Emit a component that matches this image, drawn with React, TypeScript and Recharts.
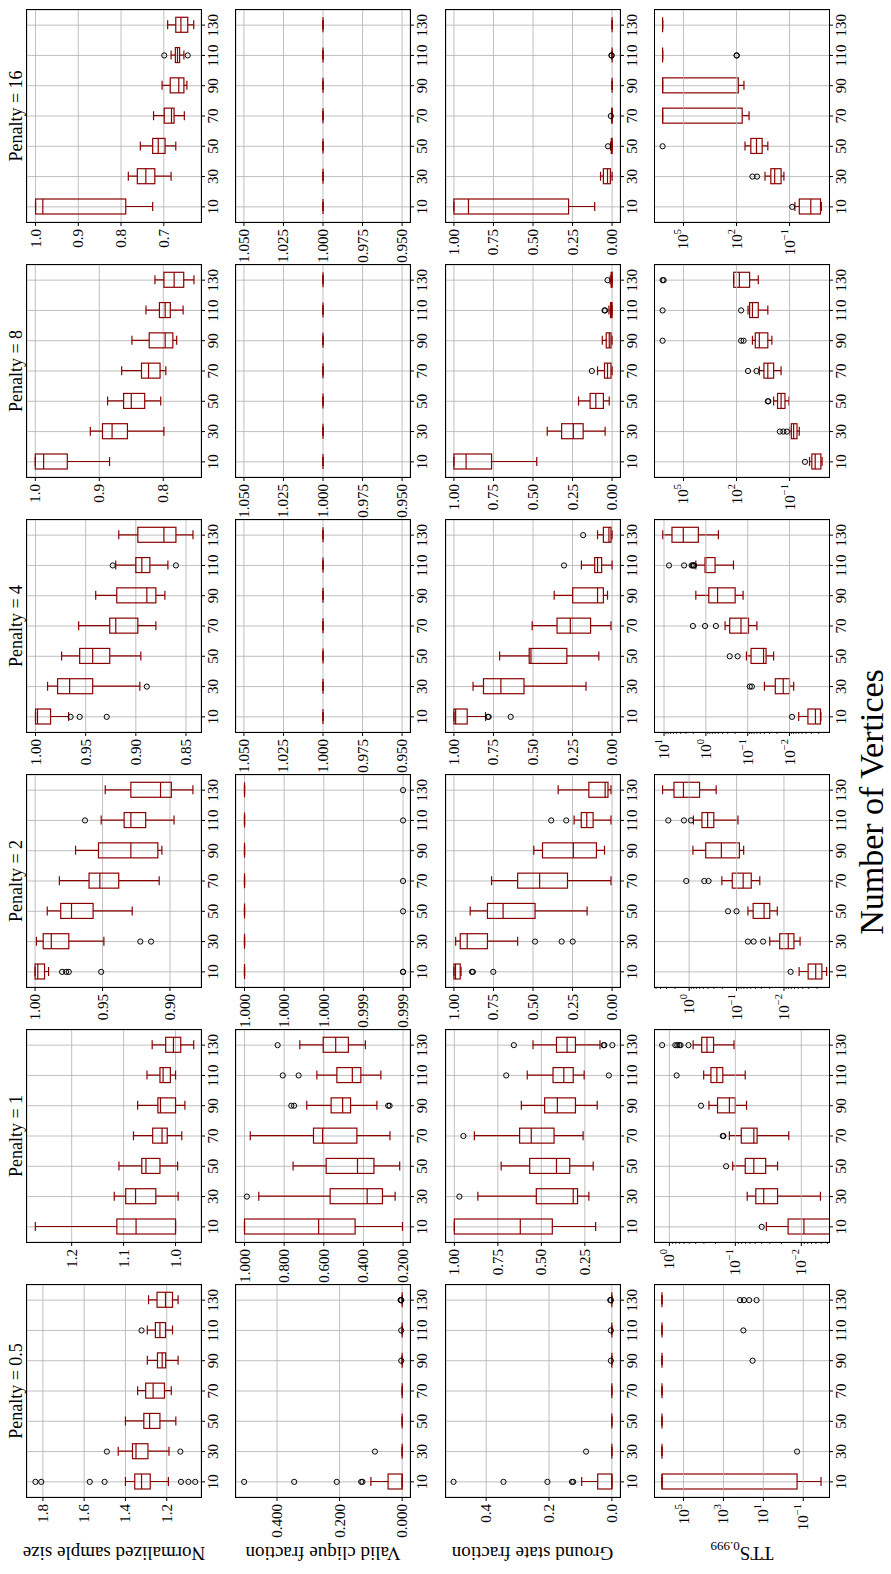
import React from "react";
import { ComposedChart, Bar, Scatter, XAxis, YAxis, CartesianGrid, ReferenceLine } from "recharts";

const vertices = [10, 30, 50, 70, 90, 110, 130];
const penalties = ["0.5", "1", "2", "4", "8", "16"];

// each box: [lower whisker, q1, median, q3, upper whisker], one block of 7 per penalty
const sampleSize = [
  [[1.192, 1.28, 1.322, 1.355, 1.4], [1.189, 1.291, 1.349, 1.366, 1.435], [1.156, 1.233, 1.283, 1.311, 1.4], [1.178, 1.211, 1.266, 1.302, 1.341], [1.145, 1.205, 1.222, 1.245, 1.294], [1.172, 1.206, 1.233, 1.255, 1.294], [1.145, 1.172, 1.206, 1.247, 1.288]],
  [[1.0, 1.0, 1.076, 1.113, 1.27], [0.995, 1.038, 1.077, 1.096, 1.118], [0.996, 1.03, 1.057, 1.065, 1.109], [0.988, 1.016, 1.026, 1.044, 1.081], [0.982, 1.0, 1.029, 1.034, 1.073], [1.0, 1.01, 1.024, 1.03, 1.055], [0.965, 0.99, 1.004, 1.019, 1.045]],
  [[0.99, 0.993, 0.998, 1.0, 1.0], [0.949, 0.975, 0.988, 0.994, 0.999], [0.928, 0.957, 0.973, 0.981, 0.991], [0.908, 0.938, 0.952, 0.96, 0.982], [0.906, 0.909, 0.929, 0.953, 0.97], [0.897, 0.918, 0.929, 0.934, 0.951], [0.883, 0.899, 0.907, 0.929, 0.948]],
  [[0.967, 0.985, 0.998, 1.0, 1.0], [0.896, 0.943, 0.966, 0.978, 0.988], [0.895, 0.926, 0.943, 0.956, 0.974], [0.88, 0.898, 0.92, 0.926, 0.957], [0.871, 0.88, 0.889, 0.919, 0.94], [0.868, 0.886, 0.894, 0.9, 0.92], [0.843, 0.86, 0.872, 0.898, 0.917]],
  [[0.884, 0.95, 0.987, 1.0, 1.0], [0.799, 0.856, 0.88, 0.895, 0.914], [0.804, 0.829, 0.85, 0.862, 0.887], [0.796, 0.805, 0.823, 0.834, 0.865], [0.779, 0.785, 0.797, 0.822, 0.849], [0.769, 0.789, 0.797, 0.806, 0.827], [0.752, 0.768, 0.783, 0.799, 0.813]],
  [[0.726, 0.789, 0.983, 1.0, 1.0], [0.683, 0.721, 0.742, 0.762, 0.783], [0.672, 0.697, 0.713, 0.726, 0.755], [0.652, 0.676, 0.682, 0.699, 0.724], [0.646, 0.653, 0.665, 0.685, 0.704], [0.653, 0.663, 0.668, 0.673, 0.683], [0.63, 0.644, 0.66, 0.672, 0.691]],
];
const sampleSizeOut = [
  [[1.836, 1.808, 1.573, 1.501, 1.131, 1.095, 1.062], [1.49, 1.134], [], [], [], [1.322], []],
  [[], [], [], [], [], [], []],
  [[0.98, 0.977, 0.975, 0.951], [0.922, 0.914], [], [], [], [0.963], []],
  [[0.965, 0.956, 0.929], [0.889], [], [], [], [0.923, 0.86], []],
  [[], [], [], [], [], [], []],
  [[], [], [], [], [], [0.699, 0.644], []],
];

const validClique = [
  [[0, 0, 0, 0.045, 0.1], [0, 0, 0, 0, 0], [0, 0, 0, 0, 0], [0, 0, 0, 0, 0], [0, 0, 0, 0, 0], [0, 0, 0, 0, 0], [0, 0, 0, 0, 0]],
  [[0.203, 0.442, 0.626, 1.0, 1.0], [0.24, 0.304, 0.381, 0.568, 0.928], [0.217, 0.347, 0.43, 0.588, 0.755], [0.266, 0.433, 0.606, 0.652, 0.971], [0.332, 0.465, 0.505, 0.563, 0.686], [0.312, 0.413, 0.456, 0.534, 0.635], [0.39, 0.476, 0.54, 0.603, 0.721]],
  [[1, 1, 1, 1, 1], [1, 1, 1, 1, 1], [1, 1, 1, 1, 1], [1, 1, 1, 1, 1], [1, 1, 1, 1, 1], [1, 1, 1, 1, 1], [1, 1, 1, 1, 1]],
  [[1, 1, 1, 1, 1], [1, 1, 1, 1, 1], [1, 1, 1, 1, 1], [1, 1, 1, 1, 1], [1, 1, 1, 1, 1], [1, 1, 1, 1, 1], [1, 1, 1, 1, 1]],
  [[1, 1, 1, 1, 1], [1, 1, 1, 1, 1], [1, 1, 1, 1, 1], [1, 1, 1, 1, 1], [1, 1, 1, 1, 1], [1, 1, 1, 1, 1], [1, 1, 1, 1, 1]],
  [[1, 1, 1, 1, 1], [1, 1, 1, 1, 1], [1, 1, 1, 1, 1], [1, 1, 1, 1, 1], [1, 1, 1, 1, 1], [1, 1, 1, 1, 1], [1, 1, 1, 1, 1]],
];
const validCliqueOut = [
  [[0.505, 0.345, 0.209, 0.131, 0.127], [0.087], [], [], [0.003], [0.003], [0.003, 0.004, 0.005]],
  [[], [0.988], [], [], [0.764, 0.75, 0.275, 0.268], [0.807, 0.727], [0.833]],
  [[0.9992, 0.9992], [], [0.9992], [0.9992], [], [0.9992], [0.9992]],
  [[], [], [], [], [], [], []],
  [[], [], [], [], [], [], []],
  [[], [], [], [], [], [], []],
];

const groundState = [
  [[0, 0, 0, 0.045, 0.096], [0, 0, 0, 0, 0], [0, 0, 0, 0, 0], [0, 0, 0, 0, 0], [0, 0, 0, 0, 0], [0, 0, 0, 0, 0], [0, 0, 0, 0, 0]],
  [[0.188, 0.437, 0.621, 1.0, 1.0], [0.227, 0.292, 0.317, 0.529, 0.865], [0.202, 0.337, 0.413, 0.567, 0.731], [0.26, 0.427, 0.558, 0.625, 0.885], [0.179, 0.304, 0.408, 0.481, 0.615], [0.254, 0.317, 0.371, 0.433, 0.581], [0.163, 0.304, 0.352, 0.413, 0.548]],
  [[0.955, 0.96, 0.99, 1.0, 1.0], [0.597, 0.788, 0.916, 0.96, 0.989], [0.158, 0.487, 0.689, 0.788, 0.897], [0.007, 0.282, 0.458, 0.597, 0.762], [0.048, 0.099, 0.245, 0.44, 0.495], [0.007, 0.12, 0.16, 0.195, 0.24], [0.007, 0.026, 0.044, 0.147, 0.341]],
  [[0.8, 0.916, 0.989, 1.0, 1.0], [0.165, 0.557, 0.703, 0.813, 0.879], [0.084, 0.286, 0.513, 0.524, 0.711], [0.007, 0.136, 0.264, 0.348, 0.505], [0.029, 0.055, 0.092, 0.249, 0.366], [0.0, 0.066, 0.092, 0.11, 0.194], [0.0, 0.007, 0.02, 0.055, 0.092]],
  [[0.476, 0.762, 0.923, 1.0, 1.0], [0.044, 0.183, 0.245, 0.319, 0.41], [0.018, 0.055, 0.103, 0.139, 0.212], [0.0, 0.007, 0.029, 0.048, 0.092], [0.0, 0.007, 0.018, 0.037, 0.062], [0.0, 0.0, 0.004, 0.01, 0.02], [0.0, 0.0, 0.002, 0.006, 0.012]],
  [[0.11, 0.275, 0.908, 1.0, 1.0], [0.0, 0.011, 0.029, 0.055, 0.073], [0, 0, 0.002, 0.005, 0.01], [0, 0, 0, 0.002, 0.004], [0, 0, 0, 0, 0], [0, 0, 0, 0, 0], [0, 0, 0, 0, 0]],
];
const groundStateOut = [
  [[0.504, 0.345, 0.205, 0.127, 0.123], [0.082], [], [], [0.003], [0.003], [0.003, 0.005]],
  [[], [0.971], [], [0.948], [], [0.702, 0.112], [0.658, 0.142, 0.138, 0.092]],
  [[0.886, 0.88, 0.751], [0.487, 0.319, 0.249], [], [], [], [0.385, 0.29], []],
  [[0.785, 0.78, 0.641], [], [], [], [], [0.304], [0.183]],
  [[], [], [], [0.128], [], [0.048, 0.044], [0.029]],
  [[], [], [0.026], [0.008], [], [0.003, 0.004], []],
];

// TTS_0.999 given as log10 exponents
const ttsExp = [
  [[-1.89, -0.69, 6.08, 6.08, 6.08], [6.08, 6.08, 6.08, 6.08, 6.08], [6.08, 6.08, 6.08, 6.08, 6.08], [6.08, 6.08, 6.08, 6.08, 6.08], [6.08, 6.08, 6.08, 6.08, 6.08], [6.08, 6.08, 6.08, 6.08, 6.08], [6.08, 6.08, 6.08, 6.08, 6.08]],
  [[-2.6, -2.5, -2.04, -1.8, -1.47], [-2.29, -1.64, -1.43, -1.31, -1.18], [-1.64, -1.46, -1.28, -1.15, -0.96], [-1.81, -1.33, -1.28, -1.09, -0.91], [-1.17, -1.0, -0.91, -0.73, -0.6], [-1.15, -0.81, -0.72, -0.63, -0.52], [-0.98, -0.67, -0.57, -0.49, -0.36]],
  [[-2.9, -2.8, -2.67, -2.51, -2.32], [-2.34, -2.21, -2.09, -1.91, -1.7], [-1.86, -1.7, -1.58, -1.35, -1.24], [-1.49, -1.31, -1.14, -0.91, -0.69], [-1.15, -1.06, -0.68, -0.35, -0.08], [-1.03, -0.52, -0.39, -0.27, -0.09], [-0.57, -0.22, 0.12, 0.32, 0.56]],
  [[-2.75, -2.74, -2.62, -2.44, -2.22], [-2.1, -2.0, -1.85, -1.66, -1.4], [-1.62, -1.44, -1.38, -1.08, -0.97], [-1.22, -1.02, -0.84, -0.57, -0.46], [-0.89, -0.7, -0.28, -0.07, 0.24], [-0.66, -0.22, 0.0, 0.02, 0.24], [-0.3, 0.18, 0.54, 0.81, 1.03]],
  [[-2.84, -2.77, -2.45, -2.26, -2.13], [-1.55, -1.42, -1.23, -1.1, -1.0], [-0.97, -0.74, -0.52, -0.32, -0.1], [-0.52, -0.1, 0.23, 0.45, 0.71], [0.0, 0.23, 0.71, 0.94, 1.1], [0.23, 0.77, 1.1, 1.26, 1.35], [0.77, 1.26, 1.84, 2.16, 2.16]],
  [[-2.8, -2.75, -2.2, -1.55, -1.3], [-0.68, -0.52, -0.16, 0.06, 0.39], [0.23, 0.55, 0.87, 1.19, 1.52], [1.29, 1.68, 6.18, 6.18, 6.18], [1.58, 1.9, 6.18, 6.18, 6.18], [6.18, 6.18, 6.18, 6.18, 6.18], [6.18, 6.18, 6.18, 6.18, 6.18]],
];
const ttsExpOut = [
  [[], [-0.69], [], [], [1.54], [2.0], [2.17, 1.97, 1.71, 1.34]],
  [[-1.4], [], [-0.86], [-0.82, -0.81], [-0.48], [-0.11], [0.11, -0.09, -0.12, -0.15, -0.17, -0.29]],
  [[-2.14], [-1.24, -1.36, -1.56], [-0.82, -1.0], [0.06, -0.32, -0.41], [], [0.44, 0.11, -0.04], []],
  [[-2.06], [-1.05, -1.1], [-0.57, -0.76], [0.31, 0.02, -0.24], [], [0.88, 0.52, 0.34, 0.31, 0.29, 0.28], []],
  [[-1.87], [-0.45, -0.65, -0.85], [0.23, 0.2], [1.35, 0.87], [6.18, 1.74, 1.6], [6.18, 1.74], [6.18, 6.12]],
  [[-1.15], [1.1, 0.84], [6.18], [], [], [2.0, 1.98], []],
];

// axis limits and tick labels per penalty
const sampleDomains = [[1.034, 1.877], [0.951, 1.286], [0.877, 1.006], [0.835, 1.0085], [0.741, 1.013], [0.613, 1.02]];
const sampleTicks = [[1.2, 1.4, 1.6, 1.8], [1.0, 1.1, 1.2], [0.9, 0.95, 1.0], [0.85, 0.9, 0.95, 1.0], [0.8, 0.9, 1.0], [0.7, 0.8, 0.9, 1.0]];
const sampleDecimals = [1, 1, 2, 2, 1, 1];

const validDomains = [[-0.025, 0.531], [0.165, 1.043], [0.999165, 1.000043], [0.945, 1.055], [0.945, 1.055], [0.945, 1.055]];
const validTicks = [[0, 0.2, 0.4], [0.2, 0.4, 0.6, 0.8, 1.0], [0.9992, 0.9994, 0.9996, 0.9998, 1.0], [0.95, 0.975, 1.0, 1.025, 1.05], [0.95, 0.975, 1.0, 1.025, 1.05], [0.95, 0.975, 1.0, 1.025, 1.05]];
const validDecimals = [3, 3, 3, 3, 3, 3];

const groundDomains = [[-0.026, 0.528], [0.048, 1.048], [-0.05, 1.05], [-0.05, 1.05], [-0.05, 1.05], [-0.05, 1.05]];
const groundTicks = [[0, 0.2, 0.4], [0.25, 0.5, 0.75, 1.0], [0, 0.25, 0.5, 0.75, 1.0], [0, 0.25, 0.5, 0.75, 1.0], [0, 0.25, 0.5, 0.75, 1.0], [0, 0.25, 0.5, 0.75, 1.0]];
const groundDecimals = [1, 2, 2, 2, 2, 2];

const ttsDomainsExp = [[-2.29, 6.43], [-2.42, 0.218], [-2.95, 0.72], [-2.944, 1.216], [-3.23, 6.61], [-3.23, 6.61]];
const ttsTicksExp = [[-1, 1, 3, 5], [-2, -1, 0], [-2, -1, 0], [-2, -1, 0, 1], [-1, 2, 5], [-1, 2, 5]];
// panels whose log axis shows minor ticks between single decades
const ttsMinor = [false, true, true, true, false, false];

const SERIF = '"Liberation Serif", "Times New Roman", "DejaVu Serif", serif';
const RED = "#8b0000";
const GRID = "#b0b0b0";
const FIG_W = 1574;
const FIG_H = 891;
const colX = [77, 332, 587, 842, 1097, 1352];
const rowY = [27, 236, 445.5, 655];
const PW = 212;
const PH = 174;
const AXW = 70;
const AXH = 40;
const TOPPAD = 14;

const BoxShape = (props: any) => {
  const { x, y, width, height, log } = props;
  const stats = (props.payload && props.payload.stats) || props.stats;
  if (!stats || x == null || y == null) return null;
  const [lo, q1, med, q3, hi] = stats;
  const f = (v: number) => (log ? Math.log10(v) : v);
  const h = height || 0;
  const span = f(hi) - f(lo);
  const py = (v: number) => (span === 0 ? y : y + h - ((f(v) - f(lo)) / span) * h);
  const cx = x + width / 2;
  const hw = 7.5;
  const cw = 4.5;
  return (
    <g stroke={RED} strokeWidth={1.2} fill="none">
      <line x1={cx} x2={cx} y1={py(hi)} y2={py(q3)} />
      <line x1={cx} x2={cx} y1={py(q1)} y2={py(lo)} />
      <line x1={cx - cw} x2={cx + cw} y1={py(hi)} y2={py(hi)} />
      <line x1={cx - cw} x2={cx + cw} y1={py(lo)} y2={py(lo)} />
      <rect x={cx - hw} y={py(q3)} width={hw * 2} height={Math.max(0, py(q1) - py(q3))} />
      <line x1={cx - hw} x2={cx + hw} y1={py(med)} y2={py(med)} />
    </g>
  );
};

const Flier = (props: any) => {
  if (props.cx == null || props.cy == null) return null;
  return <circle cx={props.cx} cy={props.cy} r={2.6} fill="none" stroke="#000" strokeWidth={1} />;
};

const YTick = (props: any) => {
  const { x, y, payload, log, decimals, majors } = props;
  const v = payload.value;
  if (log) {
    const e = Math.log10(v);
    const isMajor = majors.some((m: number) => Math.abs(Math.log10(m) - e) < 1e-6);
    const axisX = x + 7;
    if (!isMajor) {
      return <line x1={axisX - 2} x2={axisX} y1={y} y2={y} stroke="#000" strokeWidth={0.8} />;
    }
    const n = Math.round(e);
    const s = n < 0 ? "\u2212" + Math.abs(n) : String(n);
    return (
      <g>
        <line x1={axisX - 4} x2={axisX} y1={y} y2={y} stroke="#000" strokeWidth={1} />
        <text x={x} y={y + 5} textAnchor="end" fontSize={15} fontFamily={SERIF} fill="#000">
          10<tspan dy={-7} fontSize={10.5}>{s}</tspan>
        </text>
      </g>
    );
  }
  return (
    <text x={x} y={y + 5} textAnchor="end" fontSize={15} fontFamily={SERIF} fill="#000">
      {v.toFixed(decimals)}
    </text>
  );
};

interface PanelProps {
  left: number;
  top: number;
  stats: number[][];
  outs: number[][];
  domain: number[];
  ticks: number[];
  minor: number[];
  decimals: number;
  log: boolean;
}

const Panel = (params: PanelProps) => {
  const { left, top, stats, outs, domain, ticks, minor, decimals, log } = params;
  const rows = vertices.map((n, i) => ({ pos: i + 1, n, range: [stats[i][0], stats[i][4]], stats: stats[i] }));
  const fliers = outs.flatMap((list, i) => list.map((v) => ({ pos: i + 1, v })));
  const allTicks = log ? [...ticks, ...minor].sort((a, b) => a - b) : ticks;

  return (
    <div style={{ position: "absolute", left: left - AXW, top: top - TOPPAD }}>
      <ComposedChart
        width={AXW + PW}
        height={PH + AXH + TOPPAD}
        data={rows}
        margin={{ top: TOPPAD, right: 0, bottom: 0, left: 0 }}
      >
        <CartesianGrid stroke={GRID} strokeWidth={0.8} horizontal={!log} />
        {log &&
          ticks.map((t) => (
            <ReferenceLine key={t} y={t} stroke={GRID} strokeWidth={0.8} ifOverflow="discard" />
          ))}
        <XAxis
          type="number"
          dataKey="pos"
          domain={[0.5, 7.5]}
          ticks={vertices.map((_, i) => i + 1)}
          tickFormatter={(v: number) => String(vertices[v - 1])}
          interval={0}
          allowDataOverflow
          height={AXH}
          axisLine={false}
          tickSize={4}
          tickMargin={2}
          tickLine={{ stroke: "#000" }}
          tick={{ fontSize: 15, fontFamily: SERIF, fill: "#000" }}
        />
        <YAxis
          type="number"
          scale={log ? "log" : "linear"}
          domain={domain}
          ticks={allTicks}
          interval={0}
          allowDataOverflow
          width={AXW}
          axisLine={false}
          tickSize={4}
          tickMargin={3}
          tickLine={log ? false : { stroke: "#000" }}
          tick={<YTick log={log} decimals={decimals} majors={ticks} />}
        />
        <Bar
          dataKey="range"
          barSize={15}
          isAnimationActive={false}
          shape={(p: any) => <BoxShape {...p} log={log} />}
        />
        <Scatter data={fliers} dataKey="v" isAnimationActive={false} shape={(p: any) => <Flier {...p} />} />
      </ComposedChart>
      <div
        style={{
          position: "absolute",
          left: AXW - 1,
          top: TOPPAD - 1,
          width: PW + 2,
          height: PH + 2,
          boxSizing: "border-box",
          border: "1px solid #000",
          pointerEvents: "none",
        }}
      />
    </div>
  );
};

// minor tick values 2..9 x 10^d inside a log domain given in exponents
const minorTicks = (d: number[]) => {
  const out: number[] = [];
  for (let e = Math.floor(d[0]); e <= Math.ceil(d[1]); e++) {
    for (let k = 2; k <= 9; k++) {
      const v = k * 10 ** e;
      if (Math.log10(v) > d[0] && Math.log10(v) < d[1]) out.push(v);
    }
  }
  return out;
};

export default function App() {
  const metrics = [
    { stats: sampleSize, outs: sampleSizeOut, domains: sampleDomains, ticks: sampleTicks, decimals: sampleDecimals, log: false },
    { stats: validClique, outs: validCliqueOut, domains: validDomains, ticks: validTicks, decimals: validDecimals, log: false },
    { stats: groundState, outs: groundStateOut, domains: groundDomains, ticks: groundTicks, decimals: groundDecimals, log: false },
    {
      stats: ttsExp.map((p) => p.map((r) => r.map((e) => 10 ** e))),
      outs: ttsExpOut.map((p) => p.map((l) => l.map((e) => 10 ** e))),
      domains: ttsDomainsExp.map((d) => d.map((e) => 10 ** e)),
      ticks: ttsTicksExp.map((t) => t.map((e) => 10 ** e)),
      decimals: [0, 0, 0, 0, 0, 0],
      log: true,
    },
  ];
  const yLabels = ["Normalized sample size", "Valid clique fraction", "Ground state fraction"];

  return (
    <div style={{ position: "absolute", left: 0, top: 0, width: 891, height: 1574, overflow: "hidden", background: "#fff" }}>
      <div
        style={{
          position: "absolute",
          left: 0,
          top: 0,
          width: FIG_W,
          height: FIG_H,
          transformOrigin: "0 0",
          transform: `translateY(${FIG_W}px) rotate(-90deg)`,
          background: "#fff",
        }}
      >
        {metrics.map((m, r) =>
          penalties.map((p, c) => (
            <Panel
              key={`${r}-${c}`}
              left={colX[c]}
              top={rowY[r]}
              stats={m.stats[c]}
              outs={m.outs[c]}
              domain={m.domains[c]}
              ticks={m.ticks[c]}
              minor={m.log && ttsMinor[c] ? minorTicks(ttsDomainsExp[c]) : []}
              decimals={m.decimals[c]}
              log={m.log}
            />
          ))
        )}
        <svg
          width={FIG_W}
          height={FIG_H}
          style={{ position: "absolute", left: 0, top: 0, pointerEvents: "none" }}
          fontFamily={SERIF}
        >
          {penalties.map((p, c) => (
            <text key={p} x={colX[c] + PW / 2} y={22} textAnchor="middle" fontSize={18} fill="#000">
              {`Penalty = ${p}`}
            </text>
          ))}
          {yLabels.map((t, r) => (
            <text
              key={t}
              transform={`translate(27, ${rowY[r] + PH / 2}) rotate(-90)`}
              textAnchor="middle"
              fontSize={19}
              fill="#000"
            >
              {t}
            </text>
          ))}
          <text transform={`translate(27, ${rowY[3] + PH / 2}) rotate(-90)`} textAnchor="middle" fontSize={19} fill="#000">
            TTS<tspan dy={5} fontSize={13}>0.999</tspan>
          </text>
          <text x={772} y={883} textAnchor="middle" fontSize={34} fill="#000">
            Number of Vertices
          </text>
        </svg>
      </div>
    </div>
  );
}
